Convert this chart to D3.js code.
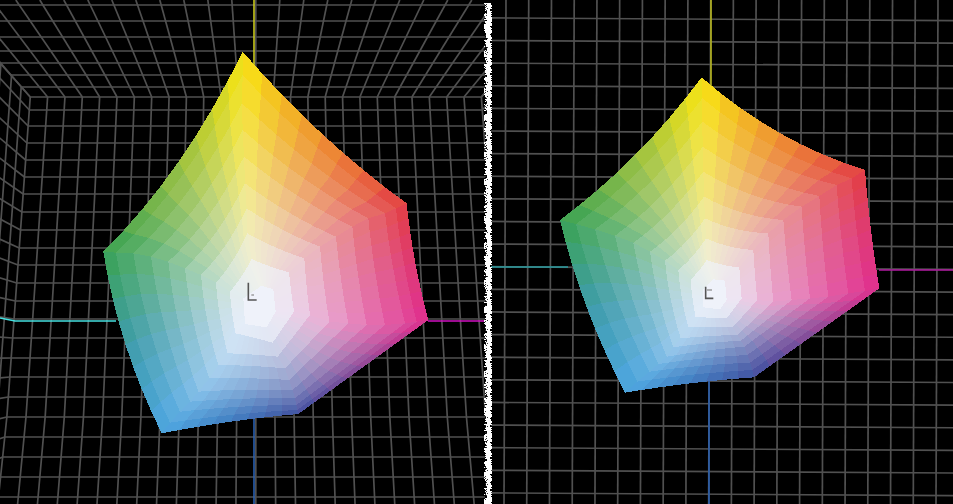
<!DOCTYPE html>
<html><head><meta charset="utf-8">
<script src="https://cdn.jsdelivr.net/npm/d3@7/dist/d3.min.js"></script>
<style>html,body{margin:0;padding:0;background:#000;overflow:hidden}svg{display:block}</style>
</head><body><svg id="c" width="953" height="504"></svg>
<script>
// Surface mesh: each hue spoke lists ring vertices, outer ring first.
const leftYellow  = [[458,35],[458,105],[456,190],[458,270],[462,350],[465,430],[470,505],[472,580],[485,657],[515,737]];
const leftRed     = [[950,490],[918,505],[885,520],[835,535],[787,560],[738,590],[690,620],[643,655],[597,697],[550,748]];
const leftMagenta = [[1015,840],[980,845],[945,850],[885,855],[830,855],[775,850],[718,845],[660,825],[612,815],[557,815]];
const leftBlue    = [[625,1122],[622,1110],[619,1095],[615,1075],[608,1050],[597,1020],[585,985],[563,950],[548,908],[530,862]];
const leftCyan    = [[215,1180],[240,1148],[270,1115],[300,1085],[325,1055],[358,1015],[385,975],[413,940],[437,880],[465,852]];
const leftGreen   = [[40,635],[78,638],[130,640],[183,650],[235,665],[285,685],[333,705],[378,728],[420,755],[460,775]];
const leftBows    = [21,7,0,6,-22,34];

const rightYellow  = [[455,22],[457,85],[457,155],[458,230],[460,305],[462,380],[465,445],[468,505],[470,570],[490,628]];
const rightRed     = [[945,300],[905,325],[860,345],[808,378],[755,410],[700,450],[655,490],[610,540],[568,592],[525,632]];
const rightMagenta = [[988,655],[945,663],[895,670],[835,680],[780,685],[725,690],[670,695],[622,690],[575,685],[530,690]];
const rightBlue    = [[612,922],[607,900],[600,878],[592,855],[583,830],[573,812],[562,795],[548,772],[530,745],[510,718]];
const rightCyan    = [[225,968],[262,935],[298,905],[325,882],[350,860],[370,832],[392,805],[415,772],[437,742],[460,712]];
const rightGreen   = [[30,450],[78,462],[135,478],[195,497],[250,518],[300,545],[345,572],[385,600],[422,628],[458,660]];
const rightBows    = [30,4,0,5,-18,23];

// Outer-edge colours: each hue corner and the colour halfway to the next corner.
const outerColors = ["#f8e40e","#ee8f2d","#e23a40","#df3570","#e02c8c","#8a4896","#3f4f9f","#3f7cc0","#4aa4e0","#3a9aa8","#35a050","#97bf3f"];
const centerColor = "#eff2fa";
const cellsPerEdge = 8;

// Left panel cube grid.
const wallRows = [97,110,126,143,160,177,194,212,230,248,265,283,301,319,338,358,377,397,417,437,457,477,497];
const ceilingRows = [87,75,63,51,37,21,5];
const wallColumns = d3.range(-13,14);
const sideWallColumns = [1.04,1.083,1.13];
const wallSpacingY = [97,320,417,504];
const wallSpacing = [17.35,18.6,19.15,19.85];
const ceilingSpacingTop = 24;

// Right panel flat grid.
const flatColumns = d3.range(0,20);
const flatRows = d3.range(0,22);

// Hand-read edge wobble of the speckled divider.
const dividerLeft  = [0,1,2,0,1,1,3,0,2,1,0,2,1,3,1,0,2,0,1,2,1,0,3,1];
const dividerRight = [7,6,7,7,5,6,7,7,6,7,5,7,6,7,7,6,5,7,7,6,7,6,7,5];
const dividerHoles = [1,0,0,2,0,1,0,0,3,0,0,1,2,0,0,0,1,0,2,0,0,1,0,0,3,0,1];

const svg = d3.select("#c");
const defs = svg.append("defs");
defs.append("clipPath").attr("id","lp").append("rect").attr("width",485).attr("height",504);
defs.append("clipPath").attr("id","rp").append("rect").attr("x",491).attr("width",462).attr("height",504);
svg.append("rect").attr("width",953).attr("height",504).attr("fill","#000");

const GRID = "#505050", GW = 1.7;
const line = d3.line();

function drawPath(g, pts, color, width){
  g.append("path").attr("d",line(pts)).attr("fill","none").attr("stroke",color).attr("stroke-width",width);
}

// ---- Left cube grid
const L = svg.append("g").attr("clip-path","url(#lp)");
const spacing = d3.scaleLinear().domain(wallSpacingY).range(wallSpacing);
const cx = 255.8, vy = 355;
const wallX = (n,y)=>cx+n*spacing(y);
const scaleAbout = (p,f)=>[cx+f*(p[0]-cx), vy+f*(p[1]-vy)];
const gridL = L.append("g");
const yAll = d3.range(97,505,20).concat([504]);
wallColumns.forEach(n=>{
  drawPath(gridL, yAll.map(y=>[wallX(n,y),y]), GRID, GW);
  drawPath(gridL, [[wallX(n,97),97],[cx+n*ceilingSpacingTop,0]], GRID, GW);
});
wallRows.forEach(y=>{
  drawPath(gridL, [[wallX(-13,y),y],[wallX(13,y),y]], GRID, GW);
  const a=[wallX(-13,y),y], b=[wallX(13,y),y];
  drawPath(gridL, [a, scaleAbout(a,1.3)], GRID, GW);
  drawPath(gridL, [b, scaleAbout(b,1.3)], GRID, GW);
});
ceilingRows.forEach(y=>{
  const f=(y-vy)/(97-vy);
  const a=scaleAbout([wallX(-13,97),97],f), b=scaleAbout([wallX(13,97),97],f);
  drawPath(gridL, [a,b], GRID, GW);
});
sideWallColumns.forEach(f=>{
  [-13,13].forEach(n=>{
    drawPath(gridL, yAll.map(y=>scaleAbout([wallX(n,y),y],f)), GRID, GW);
  });
});

// ---- Right flat grid
const R = svg.append("g").attr("clip-path","url(#rp)");
const gridR = R.append("g");
const colX = d3.scaleLinear().domain([0,19]).range([506,938]);
const rowY = d3.scaleLinear().domain([0,21]).range([18,493]);
flatColumns.forEach(i=>drawPath(gridR, [[colX(i),0],[colX(i)-2,504]], GRID, GW));
flatRows.forEach(i=>drawPath(gridR, [[491,rowY(i)-0.1],[953,rowY(i)+2.6]], GRID, GW));

// ---- Axis stubs
const axes = [
 [L,[[254,0],[254,68]],"#c8c81e"],
 [L,[[254,412],[254,504]],"#2a60b0"],
 [L,[[0,318],[15,321],[116,321]],"#45e0e0"],
 [L,[[428,321],[485,321]],"#d010c0"],
 [R,[[711,0],[711,88]],"#b8b81e"],
 [R,[[709,380],[709,504]],"#2a60b0"],
 [R,[[491,267],[568,267]],"#2a9da0"],
 [R,[[879,270],[953,270]],"#b01aa0"]
];
axes.forEach(a=>drawPath(a[0],a[1],a[2],1.6));

// ---- Faceted gamut surface
const ramp = d3.scaleLinear().domain(d3.range(13)).range(outerColors.concat(outerColors[0])).interpolate(d3.interpolateRgb);
function drawSurface(g, spokes, bows, xs, ys){
  const rings = spokes[0].length, n = spokes.length;
  const inner = spokes.map(s=>s[rings-1]);
  const c = [d3.mean(inner,p=>p[0]), d3.mean(inner,p=>p[1])];
  function vert(s,j,ringFromOuter){
    const P = spokes[s%n][ringFromOuter], Q = spokes[(s+1)%n][ringFromOuter];
    const u = j/cellsPerEdge;
    const mid = [(P[0]+Q[0])/2,(P[1]+Q[1])/2];
    const dx=c[0]-mid[0], dy=c[1]-mid[1], d=Math.hypot(dx,dy)||1;
    const k = (rings-1-ringFromOuter)/(rings-1);
    const b = 2*bows[s%n]*k;
    const C = [mid[0]+dx/d*b, mid[1]+dy/d*b];
    const v=1-u;
    return [xs(v*v*P[0]+2*u*v*C[0]+u*u*Q[0]), ys(v*v*P[1]+2*u*v*C[1]+u*u*Q[1])];
  }
  const cells=[];
  for(let s=0;s<n;s++) for(let j=0;j<cellsPerEdge;j++) for(let r=0;r<rings-1;r++){
    const t = Math.pow((r+0.5)/(rings-1),1.2);
    const base = ramp((s+(j+0.5)/cellsPerEdge)*2);
    cells.push({pts:[vert(s,j,r),vert(s,j+1,r),vert(s,j+1,r+1),vert(s,j,r+1)],
                fill:d3.interpolateRgb(base,centerColor)(t)});
  }
  g.selectAll(null).data(cells).join("path")
    .attr("d",d=>line(d.pts)+"Z").attr("fill",d=>d.fill).attr("shape-rendering","crispEdges");
  const core=[];
  for(let s=0;s<n;s++) for(let j=0;j<cellsPerEdge;j++) core.push(vert(s,j,rings-1));
  g.append("path").attr("d",line(core)+"Z").attr("fill",centerColor).attr("shape-rendering","crispEdges");
}
const lx = d3.scaleLinear().domain([0,1050]).range([90,440]);
const ly = d3.scaleLinear().domain([0,1200]).range([40,440]);
const rx = d3.scaleLinear().domain([0,1020]).range([550,890]);
const ry = d3.scaleLinear().domain([0,990]).range([70,400]);
drawSurface(L,[leftYellow,leftRed,leftMagenta,leftBlue,leftCyan,leftGreen],leftBows,lx,ly);
drawSurface(R,[rightYellow,rightRed,rightMagenta,rightBlue,rightCyan,rightGreen],rightBows,rx,ry);

// ---- Small centre marks
function glyph(g,xs,ys,v,h,t){
  drawPath(g,[[xs(v[0]),ys(v[1])],[xs(v[0]),ys(h[1])],[xs(h[0]),ys(h[1])]],"#555",1.6);
  drawPath(g,[[xs(t[0]),ys(t[2])],[xs(t[1]),ys(t[2])]],"#888",1.2);
}
glyph(L,lx,ly,[475,728],[500,780],[484,492,765]);
glyph(R,rx,ry,[467,650],[490,685],[471,486,660]);

// ---- Divider
const dg = svg.append("g");
d3.range(3,504).forEach(y=>{
  const i=(y*7+(y>>3))%dividerLeft.length, k=(y*5+(y>>2))%dividerRight.length;
  dg.append("rect").attr("x",484+dividerLeft[i]).attr("y",y).attr("height",1)
    .attr("width",dividerRight[k]-dividerLeft[i]+1).attr("fill","#fff");
  const h=dividerHoles[(y*3+(y>>4))%dividerHoles.length];
  if(h) dg.append("rect").attr("x",484+h).attr("y",y).attr("height",1).attr("width",1).attr("fill","#333");
});
</script></body></html>
